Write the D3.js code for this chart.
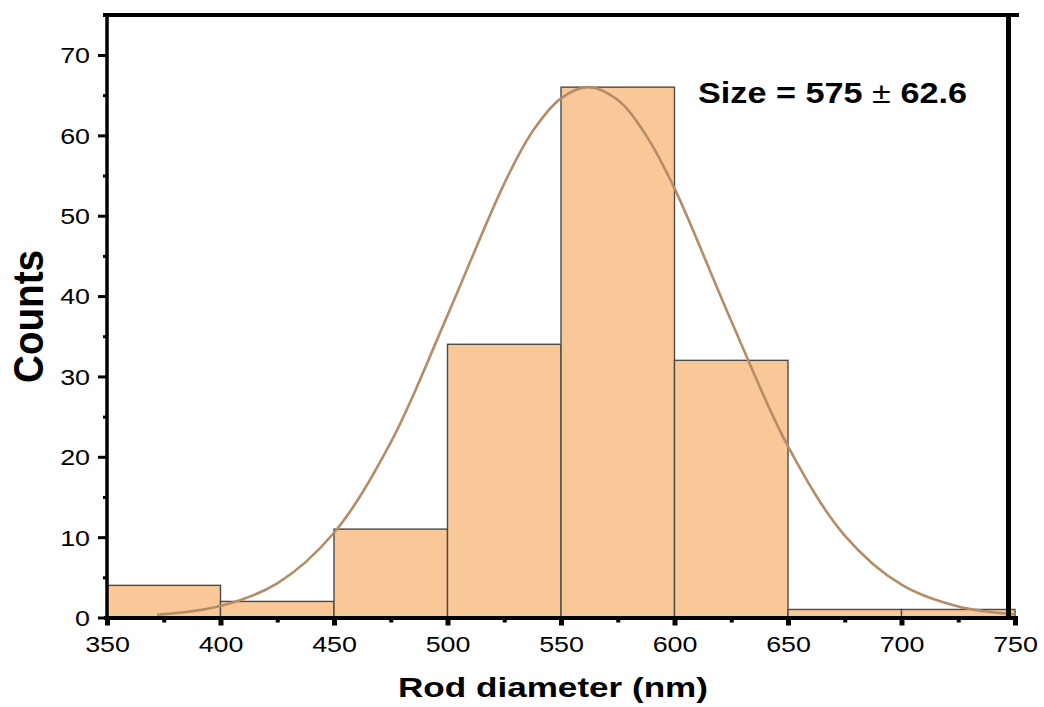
<!DOCTYPE html>
<html>
<head>
<meta charset="utf-8">
<script src="https://cdn.jsdelivr.net/npm/d3@7"></script>
<style>
  html, body { margin: 0; padding: 0; background: #fff; }
  svg { display: block; font-family: "Liberation Sans", Arial, sans-serif; }
</style>
</head>
<body>
<svg id="chart" width="1044" height="707"></svg>
<script>
// ---- data ----
const binStarts = [350, 400, 450, 500, 550, 600, 650, 700];
const binWidth = 50;
const counts = [4, 2, 11, 34, 66, 32, 1, 1];
const fitX = [372, 400, 425, 450, 475, 500, 525, 537.5, 550, 562, 575, 587.5, 600, 625, 650, 675, 700, 725, 750];
const fitY = [0.34, 1.43, 4.25, 10.55, 21.8, 37.6, 54.0, 60.5, 64.6, 66.0, 64.4, 60.0, 53.4, 36.9, 21.3, 10.2, 4.08, 1.36, 0.38];
const xMajorTicks = [350, 400, 450, 500, 550, 600, 650, 700, 750];
const xMinorTicks = [375, 425, 475, 525, 575, 625, 675, 725];
const yMajorTicks = [0, 10, 20, 30, 40, 50, 60, 70];
const yMinorTicks = [5, 15, 25, 35, 45, 55, 65];
const xTitle = "Rod diameter (nm)";
const yTitle = "Counts";
const annotationPrefix = "Size = 575 ";
const annotationPm = "\u00B1";
const annotationSuffix = " 62.6";

// ---- layout ----
const svg = d3.select("#chart");
const x = d3.scaleLinear().domain([350, 750]).range([107, 1015]);
const y = d3.scaleLinear().domain([0, 70]).range([617.5, 55]);
const sx = 1.22; // horizontal text stretch

// bars
svg.append("g").selectAll("rect").data(binStarts).join("rect")
  .attr("x", d => x(d))
  .attr("width", d => x(d + binWidth) - x(d))
  .attr("y", (d, i) => y(counts[i]))
  .attr("height", (d, i) => y(0) - y(counts[i]))
  .attr("fill", "#FAC898")
  .attr("stroke", "#4a4a4a")
  .attr("stroke-width", 1.4);

// fit curve
const pts = fitX.map((v, i) => [v, fitY[i]]);
svg.append("path")
  .datum(pts)
  .attr("fill", "none")
  .attr("stroke", "#B48D68")
  .attr("stroke-width", 2.6)
  .attr("d", d3.line().x(d => x(d[0])).y(d => y(d[1])).curve(d3.curveCatmullRom.alpha(0.5)));

// frame: top and right borders
svg.append("line").attr("x1", 103).attr("x2", 1019).attr("y1", 15).attr("y2", 15)
  .attr("stroke", "#000").attr("stroke-width", 4);
svg.append("line").attr("x1", 1008.5).attr("x2", 1008.5).attr("y1", 13).attr("y2", 619)
  .attr("stroke", "#000").attr("stroke-width", 5);

// x axis
const xAxisG = svg.append("g").attr("transform", `translate(0,${y(0)})`);
xAxisG.call(d3.axisBottom(x).tickValues(xMajorTicks).tickSize(8).tickPadding(10).tickFormat(d3.format("d")));
xAxisG.select(".domain").remove();
xAxisG.selectAll(".tick line").attr("stroke", "#000").attr("stroke-width", 5);
xAxisG.selectAll(".tick text")
  .attr("font-size", 22).attr("fill", "#000")
  .attr("font-family", "'Liberation Sans', Arial, sans-serif")
  .attr("y", 0).attr("dy", 0)
  .attr("transform", `translate(0,34) scale(${sx},1)`);
const xMinorG = svg.append("g").attr("transform", `translate(0,${y(0)})`);
xMinorG.call(d3.axisBottom(x).tickValues(xMinorTicks).tickSize(5).tickFormat(""));
xMinorG.select(".domain").remove();
xMinorG.selectAll(".tick line").attr("stroke", "#000").attr("stroke-width", 4);
svg.append("line").attr("x1", 104).attr("x2", 1018).attr("y1", y(0) + 0.5).attr("y2", y(0) + 0.5)
  .attr("stroke", "#000").attr("stroke-width", 4);

// y axis
const yAxisG = svg.append("g").attr("transform", `translate(107,0)`);
yAxisG.call(d3.axisLeft(y).tickValues(yMajorTicks).tickSize(9).tickFormat(d3.format("d")));
yAxisG.select(".domain").remove();
yAxisG.selectAll(".tick line").attr("stroke", "#000").attr("stroke-width", 3);
yAxisG.selectAll(".tick text")
  .attr("font-size", 22).attr("fill", "#000")
  .attr("font-family", "'Liberation Sans', Arial, sans-serif")
  .attr("x", 0).attr("dy", "0.36em")
  .attr("transform", `translate(-17,0) scale(${sx},1)`);
const yMinorG = svg.append("g").attr("transform", `translate(107,0)`);
yMinorG.call(d3.axisLeft(y).tickValues(yMinorTicks).tickSize(4).tickFormat(""));
yMinorG.select(".domain").remove();
yMinorG.selectAll(".tick line").attr("stroke", "#000").attr("stroke-width", 3);
svg.append("line").attr("x1", 107).attr("x2", 107).attr("y1", 13).attr("y2", 620)
  .attr("stroke", "#000").attr("stroke-width", 3.5);

// axis titles
svg.append("text")
  .attr("x", 398).attr("y", 697)
  .attr("font-size", 28).attr("font-weight", "bold").attr("fill", "#000")
  .attr("textLength", 310).attr("lengthAdjust", "spacingAndGlyphs")
  .text(xTitle);
svg.append("text")
  .attr("transform", "translate(43,383) rotate(-90)")
  .attr("font-size", 42).attr("font-weight", "bold").attr("fill", "#000")
  .attr("textLength", 133).attr("lengthAdjust", "spacingAndGlyphs")
  .text(yTitle);

// annotation
const ann = svg.append("text")
  .attr("x", 698).attr("y", 103)
  .attr("font-size", 29).attr("font-weight", "bold").attr("fill", "#000")
  .attr("textLength", 269).attr("lengthAdjust", "spacingAndGlyphs");
ann.append("tspan").text(annotationPrefix);
ann.append("tspan").attr("font-weight", "normal").text(annotationPm);
ann.append("tspan").text(annotationSuffix);
</script>
</body>
</html>
